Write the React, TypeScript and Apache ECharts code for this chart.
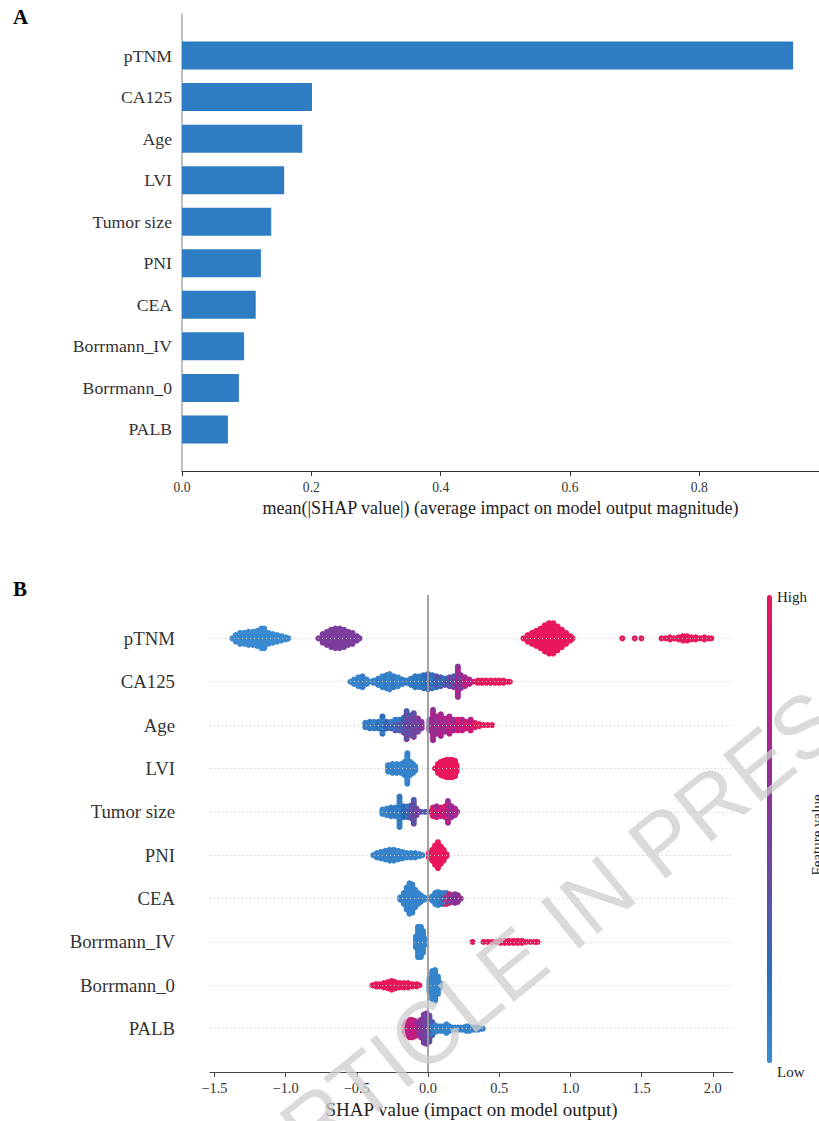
import React, { useEffect, useRef } from "react";
import * as echarts from "echarts";

// ---------- data ----------
const features = ["pTNM", "CA125", "Age", "LVI", "Tumor size", "PNI", "CEA", "Borrmann_IV", "Borrmann_0", "PALB"];
const meanAbsShap = [0.945, 0.201, 0.186, 0.158, 0.138, 0.122, 0.114, 0.096, 0.088, 0.071];
const barTicks = [0, 0.2, 0.4, 0.6, 0.8];
const shapTicks = [-1.5, -1.0, -0.5, 0.0, 0.5, 1.0, 1.5, 2.0];

// beeswarm bins: [SHAP value, points stacked in that bin, feature value (0 low .. 1 high), alternate feature value]
const pTNMBins = [
  [-1.375, 1, 0], [-1.35, 4, 0], [-1.32, 6, 0], [-1.29, 6, 0], [-1.26, 7, 0], [-1.23, 7, 0], [-1.2, 8, 0],
  [-1.17, 10, 0], [-1.15, 10, 0], [-1.12, 6, 0], [-1.09, 5, 0], [-1.06, 4, 0], [-1.03, 3, 0], [-1.0, 2, 0], [-0.98, 1, 0],
  [-0.77, 1, 0.5], [-0.74, 5, 0.5], [-0.71, 7, 0.5], [-0.68, 9, 0.5], [-0.65, 10, 0.5], [-0.62, 10, 0.5],
  [-0.59, 9, 0.5], [-0.56, 7, 0.5], [-0.53, 6, 0.5], [-0.5, 3, 0.5], [-0.48, 1, 0.5],
  [0.67, 1, 1], [0.7, 4, 1], [0.73, 6, 1], [0.76, 8, 1], [0.79, 10, 1], [0.82, 13, 1], [0.85, 15, 1],
  [0.88, 15, 1], [0.91, 12, 1], [0.94, 9, 1], [0.97, 6, 1], [1.0, 3, 1], [1.015, 1, 1],
  [1.365, 1, 1], [1.452, 1, 1], [1.499, 1, 1],
  [1.64, 1, 1], [1.67, 1, 1], [1.7, 2, 1], [1.73, 1, 1], [1.76, 2, 1], [1.79, 3, 1], [1.82, 3, 1],
  [1.85, 2, 1], [1.88, 2, 1], [1.91, 1, 1], [1.94, 2, 1], [1.97, 1, 1], [1.99, 1, 1],
];
const CA125Bins = [
  [-0.545, 1, 0.05], [-0.52, 3, 0.05], [-0.49, 5, 0.05], [-0.46, 6, 0.08], [-0.43, 3, 0.05], [-0.4, 1, 0.05],
  [-0.38, 2, 0.05], [-0.35, 4, 0.08], [-0.32, 6, 0.05], [-0.29, 7, 0.1], [-0.27, 8, 0.05], [-0.24, 6, 0.1],
  [-0.21, 5, 0.05], [-0.18, 3, 0.1], [-0.15, 2, 0.1], [-0.12, 4, 0.1], [-0.09, 6, 0.15], [-0.06, 6, 0.1],
  [-0.03, 7, 0.2, 0.1], [0.0, 8, 0.15, 0.3], [0.03, 7, 0.2, 0.1], [0.06, 6, 0.2, 0.35], [0.09, 5, 0.3, 0.15],
  [0.12, 4, 0.4, 0.2], [0.15, 5, 0.45, 0.25], [0.18, 6, 0.5, 0.3], [0.21, 15, 0.55, 0.8], [0.23, 7, 0.6, 0.4],
  [0.26, 5, 0.65, 0.9], [0.29, 3, 0.75], [0.32, 1, 0.9], [0.35, 2, 1], [0.38, 2, 1], [0.41, 2, 1],
  [0.44, 2, 1], [0.47, 2, 1], [0.5, 2, 1], [0.53, 2, 1], [0.56, 1, 1], [0.575, 1, 1],
];
const AgeBins = [
  [-0.44, 3, 0.1], [-0.41, 4, 0.1], [-0.38, 4, 0.15, 0.05], [-0.35, 4, 0.15], [-0.32, 9, 0.2, 0.05],
  [-0.29, 4, 0.25], [-0.26, 4, 0.3, 0.1], [-0.23, 6, 0.35, 0.1], [-0.2, 6, 0.4, 0.15], [-0.17, 8, 0.45, 0.2],
  [-0.15, 14, 0.5, 0.3], [-0.12, 10, 0.5, 0.3], [-0.1, 12, 0.55, 0.35], [-0.07, 7, 0.55, 0.35], [-0.045, 4, 0.55],
  [0.01, 6, 0.6, 0.45], [0.035, 15, 0.6, 0.75], [0.06, 9, 0.65, 0.5], [0.09, 11, 0.65, 0.8], [0.12, 7, 0.7, 0.55],
  [0.15, 9, 0.7, 0.85], [0.18, 6, 0.75, 0.6], [0.21, 6, 0.8, 0.95], [0.24, 6, 0.85, 0.7], [0.27, 4, 0.9],
  [0.3, 6, 0.9, 0.75], [0.33, 3, 0.95], [0.36, 2, 1], [0.39, 1, 1], [0.42, 1, 1], [0.45, 1, 1],
];
const LVIBins = [
  [-0.28, 4, 0.05], [-0.25, 5, 0.05], [-0.22, 5, 0.05], [-0.19, 5, 0.05], [-0.165, 7, 0.05], [-0.145, 15, 0.05],
  [-0.125, 7, 0.05], [-0.105, 5, 0.05], [-0.09, 3, 0.05],
  [0.05, 1, 1], [0.07, 5, 1], [0.09, 7, 1], [0.11, 8, 1], [0.13, 9, 1], [0.15, 9, 1], [0.17, 9, 1], [0.19, 8, 1], [0.2, 4, 1],
];
const TumorSizeBins = [
  [-0.32, 3, 0.05], [-0.29, 4, 0.05], [-0.26, 5, 0.1], [-0.23, 5, 0.1], [-0.2, 15, 0.15, 0.05], [-0.17, 6, 0.2],
  [-0.14, 6, 0.3, 0.1], [-0.115, 7, 0.4], [-0.1, 12, 0.45, 0.3], [-0.08, 4, 0.45], [-0.05, 1, 0.4], [-0.02, 1, 0.3],
  [0.01, 1, 0.4], [0.035, 5, 0.95], [0.06, 6, 0.9, 0.6], [0.09, 5, 0.85], [0.12, 6, 0.7, 0.95],
  [0.14, 11, 0.6, 0.9], [0.165, 6, 0.6], [0.19, 4, 0.7], [0.205, 1, 0.7],
];
const PNIBins = [
  [-0.385, 1, 0.05], [-0.36, 3, 0.05], [-0.33, 4, 0.05], [-0.3, 5, 0.05], [-0.27, 6, 0.05], [-0.24, 6, 0.05],
  [-0.21, 5, 0.05], [-0.18, 4, 0.05], [-0.15, 3, 0.05], [-0.12, 3, 0.05], [-0.09, 3, 0.05], [-0.06, 2, 0.05], [-0.04, 1, 0.05],
  [0.005, 3, 1], [0.03, 6, 1], [0.05, 10, 1], [0.07, 13, 1], [0.09, 9, 1], [0.11, 6, 1], [0.13, 2, 1],
];
const CEABins = [
  [-0.195, 2, 0.05], [-0.17, 6, 0.05], [-0.15, 11, 0.05], [-0.13, 15, 0.05], [-0.11, 14, 0.05], [-0.09, 9, 0.05],
  [-0.07, 6, 0.05], [-0.05, 4, 0.05], [-0.03, 2, 0.05], [-0.01, 1, 0.05],
  [0.005, 1, 0.05], [0.03, 3, 0.05], [0.05, 6, 0.05], [0.07, 7, 0.05], [0.09, 6, 0.1], [0.11, 6, 0.3, 0.05],
  [0.13, 6, 1, 0.1], [0.15, 5, 0.9, 0.3], [0.17, 4, 0.5], [0.19, 5, 0.55], [0.21, 4, 0.6], [0.23, 1, 0.6],
];
const BorrmannIVBins = [
  [-0.085, 6, 0.05], [-0.07, 15, 0.05], [-0.05, 15, 0.05], [-0.035, 11, 0.05], [-0.025, 4, 0.05],
  [0.313, 1, 1], [0.39, 1, 1], [0.42, 1, 1], [0.45, 1, 1], [0.48, 1, 1], [0.51, 2, 1], [0.54, 2, 1],
  [0.57, 2, 1], [0.6, 2, 1], [0.63, 2, 1], [0.66, 2, 1], [0.69, 1, 1], [0.72, 1, 1], [0.75, 1, 1], [0.77, 1, 1],
];
const Borrmann0Bins = [
  [-0.39, 1, 1], [-0.365, 2, 1], [-0.34, 2, 1], [-0.31, 3, 1], [-0.28, 4, 1], [-0.255, 5, 1], [-0.23, 4, 1],
  [-0.2, 3, 1], [-0.17, 3, 1], [-0.14, 3, 1], [-0.11, 2, 1], [-0.08, 2, 1], [-0.06, 1, 1],
  [0.01, 7, 0.05], [0.03, 14, 0.05], [0.05, 15, 0.05], [0.07, 9, 0.05], [0.085, 3, 0.05],
];
const PALBBins = [
  [-0.165, 4, 0.9, 0.8], [-0.15, 7, 0.9, 0.75], [-0.13, 9, 0.85, 0.7], [-0.11, 9, 0.85, 0.75], [-0.09, 8, 0.85, 0.7],
  [-0.07, 6, 0.8, 0.6], [-0.05, 9, 0.6, 0.5], [-0.03, 14, 0.55, 0.45], [-0.01, 15, 0.5, 0.4], [0.01, 13, 0.45, 0.3],
  [0.03, 7, 0.3, 0.1], [0.05, 4, 0.05], [0.07, 3, 0.05], [0.09, 3, 0.05], [0.11, 3, 0.05], [0.13, 5, 0.05],
  [0.15, 3, 0.05], [0.17, 2, 0.05], [0.19, 2, 0.05], [0.21, 2, 0.05], [0.23, 2, 0.05], [0.25, 2, 0.05],
  [0.27, 3, 0.05], [0.29, 3, 0.05], [0.31, 2, 0.05], [0.33, 2, 0.05], [0.35, 2, 0.05], [0.37, 1, 0.05], [0.385, 1, 0.05],
];
const swarmBins = [pTNMBins, CA125Bins, AgeBins, LVIBins, TumorSizeBins, PNIBins, CEABins, BorrmannIVBins, Borrmann0Bins, PALBBins];

// ---------- layout helpers ----------
const STACK_STEP = 0.05; // vertical spacing between stacked dots, in row units
const serif = "'Liberation Serif', 'Times New Roman', serif";
const featureColors = ["#3a8bd1", "#2b6db9", "#6a4aa2", "#8f3096", "#c41a83", "#e8185a"];

function buildPoints() {
  const pts: number[][] = [];
  swarmBins.forEach((bins, i) => {
    const row = features.length - 1 - i;
    bins.forEach((b) => {
      const [x, n, c1, c2] = b as number[];
      for (let k = 0; k < n; k++) {
        const off = (k - (n - 1) / 2) * STACK_STEP;
        const c = c2 !== undefined && k % 2 === 1 ? c2 : c1;
        pts.push([x, row + off, c]);
      }
    });
  });
  return pts;
}

const fmt = (v: number) => (v < 0 ? "\u2212" + Math.abs(v).toFixed(1) : v.toFixed(1));

export default function App() {
  const ref = useRef<HTMLDivElement>(null);
  useEffect(() => {
    if (!ref.current) return;
    const chart = echarts.init(ref.current, undefined, { renderer: "svg" });
    const barCats = ["", ...features.slice().reverse(), ""];
    const barData = [null, ...meanAbsShap.slice().reverse(), null];
    const rows = features.map((_, i) => i);
    const option: any = {
      animation: false,
      backgroundColor: "#ffffff",
      grid: [
        { left: 182, top: 14, width: 637, height: 457 },
        { left: 210, top: 595, width: 523, height: 477 },
      ],
      xAxis: [
        {
          gridIndex: 0, type: "value", min: 0, max: 0.985, minInterval: 0.2, maxInterval: 0.2,
          axisLine: { show: true, lineStyle: { color: "#333", width: 1 } },
          axisTick: { show: true, length: 5, customValues: barTicks, lineStyle: { color: "#333" } },
          axisLabel: { customValues: barTicks, formatter: (v: number) => fmt(v), fontFamily: serif, fontSize: 13.6, color: "#333", margin: 9 },
          splitLine: { show: false },
          name: "mean(|SHAP value|) (average impact on model output magnitude)",
          nameLocation: "middle", nameGap: 28,
          nameTextStyle: { fontFamily: serif, fontSize: 18, color: "#222" },
        },
        {
          gridIndex: 1, type: "value", min: -1.531, max: 2.142, minInterval: 0.5, maxInterval: 0.5,
          axisLine: { show: true, onZero: false, lineStyle: { color: "#444", width: 1 } },
          axisTick: { show: true, length: 5, customValues: shapTicks, lineStyle: { color: "#444" } },
          axisLabel: { customValues: shapTicks, formatter: (v: number) => fmt(v), fontFamily: serif, fontSize: 14.4, color: "#333", margin: 9 },
          splitLine: { show: false },
          name: "SHAP value (impact on model output)",
          nameLocation: "middle", nameGap: 28,
          nameTextStyle: { fontFamily: serif, fontSize: 19, color: "#222" },
        },
      ],
      yAxis: [
        {
          gridIndex: 0, type: "category", data: barCats, boundaryGap: false,
          axisLine: { show: true, lineStyle: { color: "#aaa", width: 1.5 } },
          axisTick: { show: false },
          axisLabel: { fontFamily: serif, fontSize: 17.7, color: "#333", margin: 10 },
          splitLine: { show: false },
        },
        {
          gridIndex: 1, type: "value", min: -1, max: 10,
          axisLine: { show: false }, axisTick: { show: false, customValues: rows },
          axisLabel: { customValues: rows, formatter: (v: number) => features[features.length - 1 - v] ?? "", fontFamily: serif, fontSize: 18.8, color: "#333", margin: 35 },
          splitLine: { show: false },
        },
      ],
      visualMap: {
        type: "continuous", seriesIndex: 2, dimension: 2, min: 0, max: 1,
        inRange: { color: featureColors },
        left: 767, top: 595, itemWidth: 5, itemHeight: 468, padding: 0,
        calculable: false, realtime: false, text: null, showLabel: false,
      },
      series: [
        {
          type: "bar", xAxisIndex: 0, yAxisIndex: 0, data: barData, barWidth: 28,
          itemStyle: { color: "#2e7dc3" }, silent: true,
        },
        {
          type: "scatter", xAxisIndex: 1, yAxisIndex: 1, data: [], z: 1, silent: true,
          markLine: {
            silent: true, symbol: ["none", "none"], label: { show: false },
            lineStyle: { color: "#c6c6c6", type: [1, 3], width: 1 },
            emphasis: { disabled: true },
            data: rows.map((r) => ({ yAxis: r })),
          },
        },
        {
          type: "scatter", xAxisIndex: 1, yAxisIndex: 1, data: buildPoints(), z: 2, silent: true,
          symbol: "circle", symbolSize: 6, itemStyle: { opacity: 1 },
        },
        {
          type: "scatter", xAxisIndex: 1, yAxisIndex: 1, data: [], z: 3, silent: true,
          markLine: {
            silent: true, symbol: ["none", "none"], label: { show: false },
            lineStyle: { color: "#999", type: "solid", width: 1.8 },
            emphasis: { disabled: true },
            data: [{ xAxis: 0 }],
          },
        },
      ],
      graphic: [
        { type: "text", x: 13, y: 17, style: { text: "A", font: `bold 21px ${serif}`, fill: "#000", textVerticalAlign: "middle" } },
        { type: "text", x: 13, y: 589, style: { text: "B", font: `bold 21px ${serif}`, fill: "#000", textVerticalAlign: "middle" } },
        { type: "text", x: 777, y: 597, style: { text: "High", font: `15px ${serif}`, fill: "#222", textVerticalAlign: "middle" } },
        { type: "text", x: 777, y: 1072, style: { text: "Low", font: `15px ${serif}`, fill: "#222", textVerticalAlign: "middle" } },
        {
          type: "text", x: 817, y: 835, rotation: Math.PI / 2,
          style: { text: "Feature value", font: `15px ${serif}`, fill: "#222", textAlign: "center", textVerticalAlign: "middle" },
        },
        {
          type: "text", x: 560, y: 925, rotation: (39 * Math.PI) / 180, z: 100, silent: true,
          style: { text: "ARTICLE IN PRESS", font: "88px 'Liberation Sans', sans-serif", fill: "rgba(205,205,205,0.75)", textAlign: "center", textVerticalAlign: "middle" },
        },
      ],
    };
    chart.setOption(option);
    return () => chart.dispose();
  }, []);
  return <div ref={ref} style={{ position: "absolute", left: 0, top: 0, width: 819, height: 1121 }} />;
}
